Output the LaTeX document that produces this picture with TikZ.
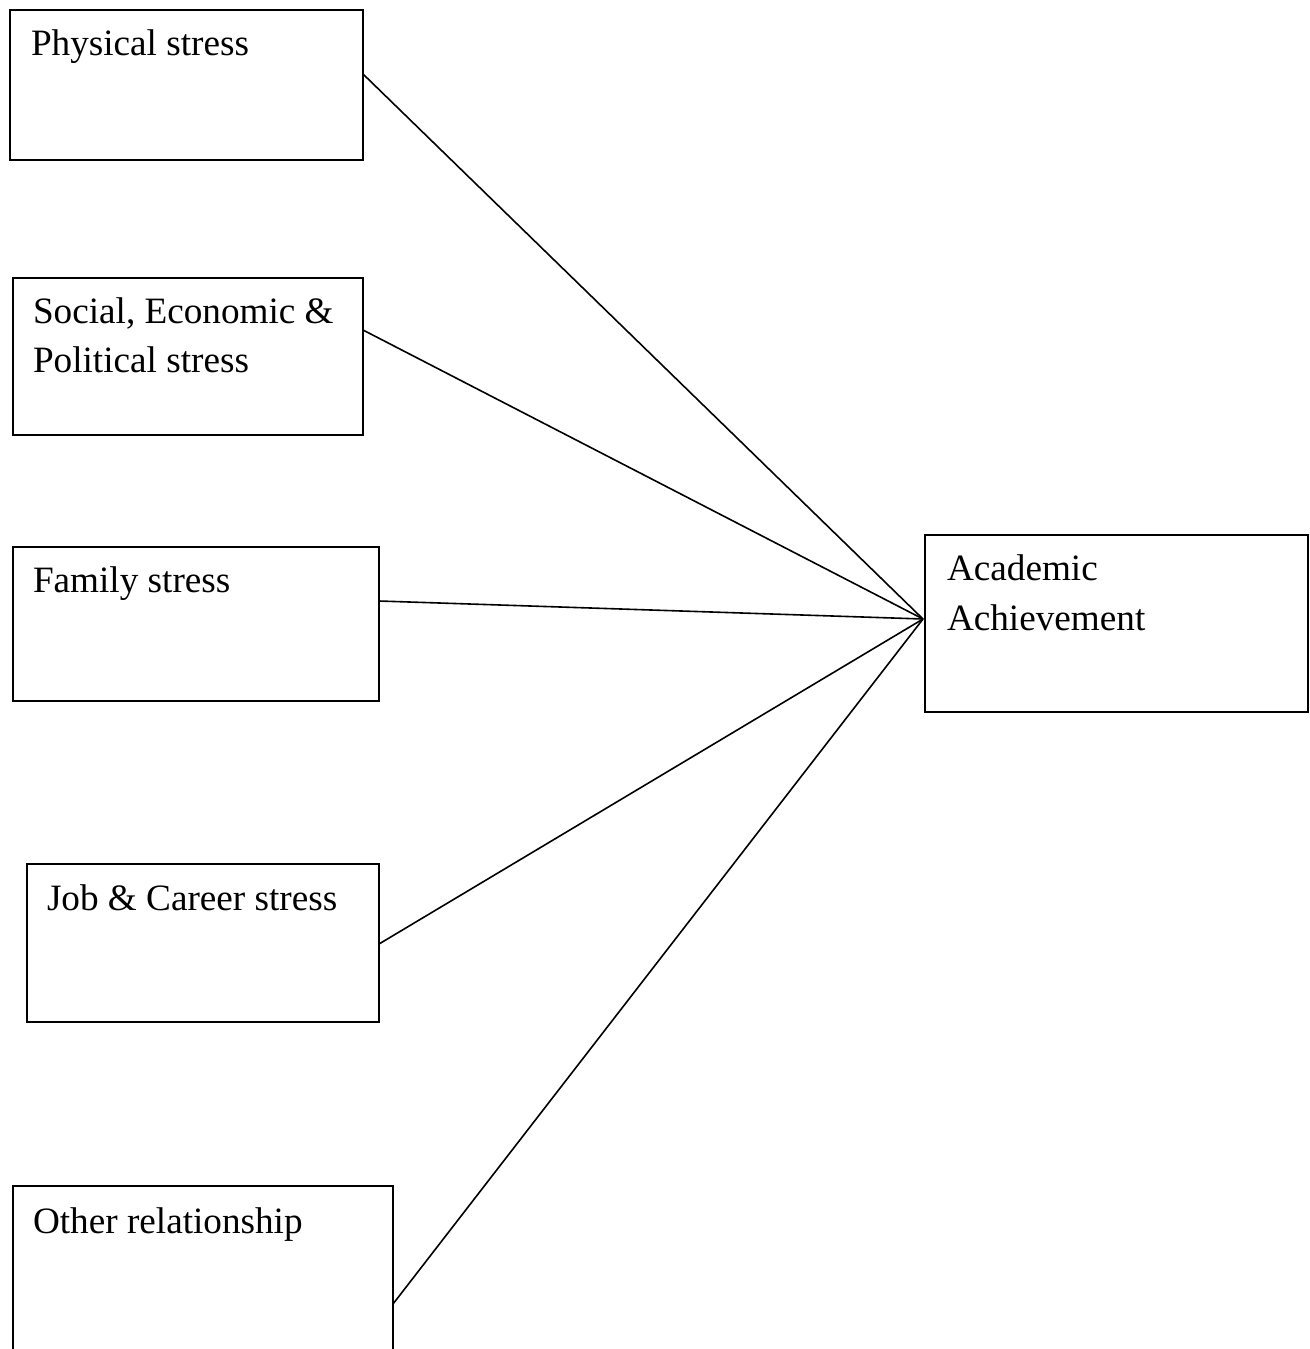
\documentclass[tikz,border=0pt]{standalone}
\usepackage{fontspec}
\setmainfont{Liberation Serif}
\begin{document}
\begin{tikzpicture}[x=1pt,y=-1pt,
  box/.style={draw=black,line width=2pt,rectangle,anchor=north west,inner sep=0pt,outer sep=0pt},
  lbl/.style={inner sep=0pt,outer sep=0pt,anchor=base west,align=left,font=\fontsize{37.2}{49}\selectfont},
  link/.style={draw=black,line width=1.6pt}]
\clip (0,0) rectangle (1309,1349);
\useasboundingbox (0,0) rectangle (1309,1349);
\fill[white] (0,0) rectangle (1309,1349);
% boxes
\node[box,minimum width=353pt,minimum height=150pt] (phys) at (10,10) {};
\node[box,minimum width=350pt,minimum height=157pt] (soc) at (13,278) {};
\node[box,minimum width=366pt,minimum height=154pt] (fam) at (13,547) {};
\node[box,minimum width=352pt,minimum height=158pt] (job) at (27,864) {};
\node[box,minimum width=380pt,minimum height=220pt] (oth) at (13,1186) {};
\node[box,minimum width=383pt,minimum height=177pt] (acad) at (925,535) {};
% labels
\node[lbl] (tphys) at (31,55) {Physical stress};
\node[lbl] (tsoc1) at (33,323) {Social, Economic \&};
\node[lbl] (tsoc2) at (33,372) {Political stress};
\node[lbl] (tfam) at (33,592) {Family stress};
\node[lbl] (tjob) at (47,910) {Job \& Career stress};
\node[lbl] (toth) at (33,1233) {Other relationship};
\node[lbl] (tac1) at (947,580) {Academic};
\node[lbl] (tac2) at (947,630) {Achievement};
% connector ends
\coordinate (hub) at (923,619);
\coordinate (ephys) at (phys.east |- 0,74);
\coordinate (esoc) at (soc.east |- 0,330);
\coordinate (efam) at (fam.east |- 0,601);
\coordinate (ejob) at (job.east |- 0,944);
\coordinate (eoth) at (oth.east |- 0,1304);
\draw[link] (ephys) -- (hub);
\draw[link] (esoc) -- (hub);
\draw[link] (efam) -- (hub);
\draw[link] (ejob) -- (hub);
\draw[link] (eoth) -- (hub);
\end{tikzpicture}
\end{document}
